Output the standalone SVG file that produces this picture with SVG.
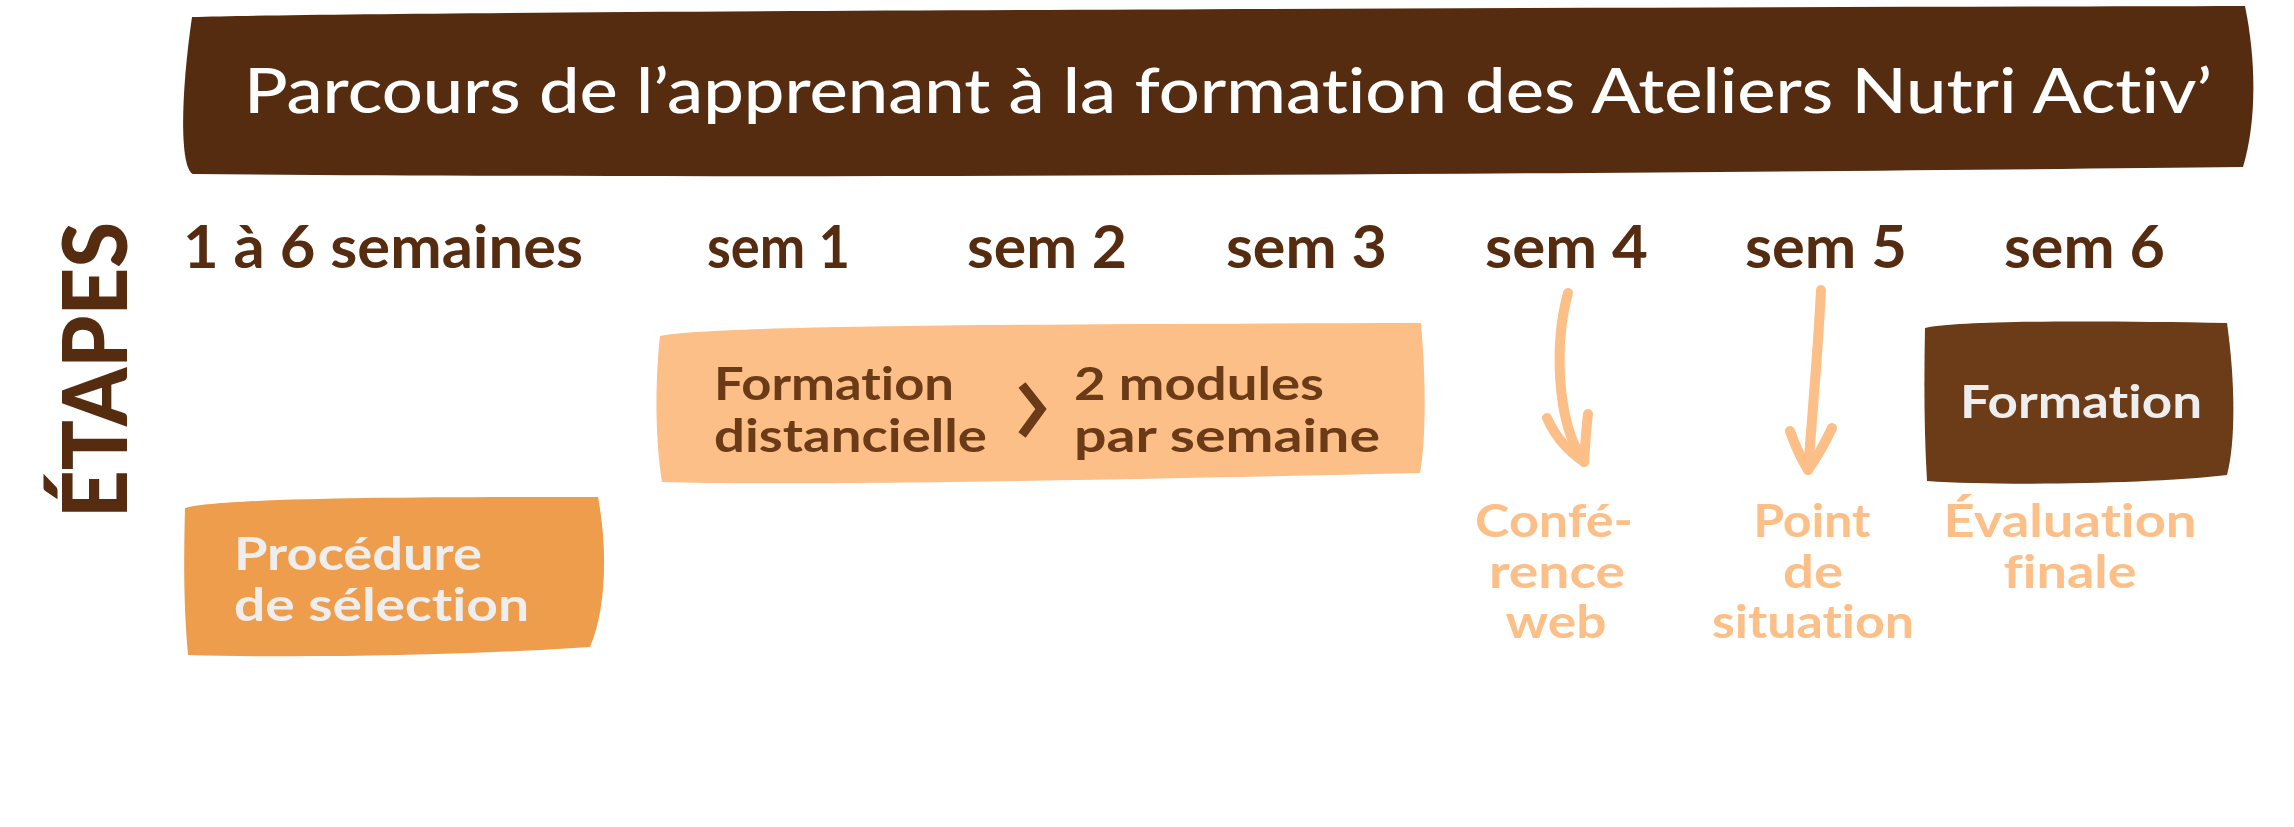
<svg xmlns="http://www.w3.org/2000/svg" width="2294" height="827" viewBox="0 0 2294 827">
<style>
.t{font-family:Lato,"Liberation Sans",sans-serif;font-variant-ligatures:none;font-feature-settings:"liga" 0,"clig" 0}
.title{font-size:61px;font-weight:500;fill:#ffffff}
.wk{font-size:60px;font-weight:700;fill:#562c11}
.bx{font-size:46px;font-weight:700}
.lbl{font-size:46px;font-weight:700;fill:#fbbf87;text-anchor:middle}
.arrow{fill:none;stroke:#fbbf87;stroke-width:10;stroke-linecap:round;stroke-linejoin:round}
</style>
<rect width="2294" height="827" fill="#ffffff"/>
<g id="banner">
<path d="M192,17 C400,11 1500,8 2245,6 C2256,60 2257,120 2243,167 C1800,172 800,180 193,174 C180,168 180,100 192,17 Z" fill="#562c11"/>
<text class="t title" x="244" y="113" textLength="1968" lengthAdjust="spacingAndGlyphs">Parcours de l’apprenant à la formation des Ateliers Nutri Activ’</text>
</g>
<g id="etapes">
<text class="t" transform="translate(127,370) rotate(-90)" text-anchor="middle" font-size="90" font-weight="900" fill="#562c11" textLength="296" lengthAdjust="spacingAndGlyphs">ÉTAPES</text>
</g>
<g id="weeks">
<text class="t wk" x="183" y="268" textLength="400" lengthAdjust="spacingAndGlyphs">1 à 6 semaines</text>
<text class="t wk" x="707" y="268" textLength="143" lengthAdjust="spacingAndGlyphs">sem 1</text>
<text class="t wk" x="967" y="268" textLength="160" lengthAdjust="spacingAndGlyphs">sem 2</text>
<text class="t wk" x="1226" y="268" textLength="161" lengthAdjust="spacingAndGlyphs">sem 3</text>
<text class="t wk" x="1485" y="268" textLength="163" lengthAdjust="spacingAndGlyphs">sem 4</text>
<text class="t wk" x="1745" y="268" textLength="162" lengthAdjust="spacingAndGlyphs">sem 5</text>
<text class="t wk" x="2004" y="268" textLength="161" lengthAdjust="spacingAndGlyphs">sem 6</text>
</g>
<g id="node-distanciel">
<path d="M660,336 C700,326 1000,324 1421,323 C1426,380 1426,440 1420,473 C1100,480 800,486 662,482 C655,440 655,380 660,336 Z" fill="#fbbf87"/>
<text class="t bx" x="714" y="400" fill="#6b3a17" textLength="240" lengthAdjust="spacingAndGlyphs">Formation</text>
<text class="t bx" x="714" y="452" fill="#6b3a17" textLength="273" lengthAdjust="spacingAndGlyphs">distancielle</text>
<polyline points="1022,385 1041,409 1022,435" fill="none" stroke="#6b3a17" stroke-width="9" stroke-linejoin="miter"/>
<text class="t bx" x="1074" y="400" fill="#6b3a17" textLength="250" lengthAdjust="spacingAndGlyphs">2 modules</text>
<text class="t bx" x="1074" y="452" fill="#6b3a17" textLength="306" lengthAdjust="spacingAndGlyphs">par semaine</text>
</g>
<g id="node-selection">
<path d="M185,508 C220,498 400,497 598,497 C608,550 606,610 590,647 C450,656 300,658 188,655 C183,600 184,550 185,508 Z" fill="#ee9d4d"/>
<text class="t bx" x="234" y="570" fill="#eeeeee" textLength="248" lengthAdjust="spacingAndGlyphs">Procédure</text>
<text class="t bx" x="234" y="621" fill="#eeeeee" textLength="295" lengthAdjust="spacingAndGlyphs">de sélection</text>
</g>
<g id="node-formation">
<path d="M1925,328 C1960,320 2100,321 2227,323 C2235,380 2236,440 2227,475 C2150,484 2000,486 1927,481 C1924,430 1924,380 1925,328 Z" fill="#6b3c17"/>
<text class="t bx" x="1960" y="418" fill="#eeeeee" textLength="242" lengthAdjust="spacingAndGlyphs">Formation</text>
</g>
<g id="connectors">
<path class="arrow" d="M1568,293 C1555,340 1555,420 1584,462"/>
<path class="arrow" d="M1547,418 C1557,440 1570,452 1584,462 M1588,414 C1586,430 1585,448 1584,462"/>
<path class="arrow" d="M1821,290 C1818,350 1812,420 1808,470"/>
<path class="arrow" d="M1790,431 C1796,448 1802,460 1808,470 M1832,428 C1824,445 1815,460 1808,470"/>
</g>
<g id="node-conference">
<text class="t lbl" x="1554" y="537" textLength="158" lengthAdjust="spacingAndGlyphs">Confé-</text>
<text class="t lbl" x="1557" y="588" textLength="136" lengthAdjust="spacingAndGlyphs">rence</text>
<text class="t lbl" x="1556" y="638" textLength="101" lengthAdjust="spacingAndGlyphs">web</text>
</g>
<g id="node-point">
<text class="t lbl" x="1812" y="537" textLength="117" lengthAdjust="spacingAndGlyphs">Point</text>
<text class="t lbl" x="1813" y="588" textLength="60" lengthAdjust="spacingAndGlyphs">de</text>
<text class="t lbl" x="1813" y="638" textLength="202" lengthAdjust="spacingAndGlyphs">situation</text>
</g>
<g id="node-evaluation">
<text class="t lbl" x="2070" y="537" textLength="253" lengthAdjust="spacingAndGlyphs">Évaluation</text>
<text class="t lbl" x="2070" y="588" textLength="133" lengthAdjust="spacingAndGlyphs">finale</text>
</g>
</svg>
